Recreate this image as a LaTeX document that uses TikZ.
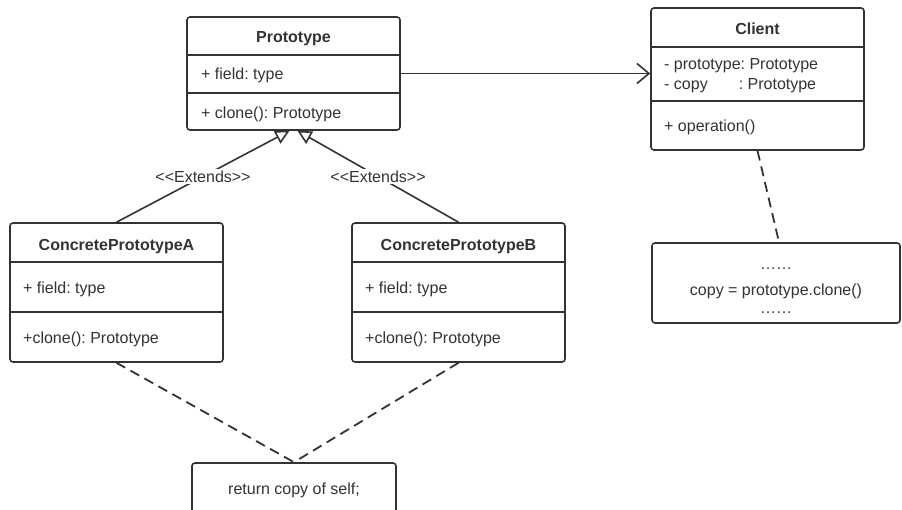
\documentclass[tikz,border=0pt]{standalone}
\usepackage{fontspec}
\setmainfont{Liberation Sans}
\usetikzlibrary{arrows.meta}
\definecolor{umlgray}{HTML}{333333}
\frenchspacing

\begin{document}
\begin{tikzpicture}[x=1pt, y=-1pt,
    every node/.style={text=umlgray, font=\fontsize{16}{20}\selectfont},
    uml box/.style={draw=umlgray, line width=1.6pt, rounded corners=3pt, inner sep=0pt, fill=white},
    class name/.style={anchor=base, inner sep=0pt, font=\fontsize{16}{20}\selectfont\bfseries},
    member/.style={anchor=base west, inner sep=0pt},
    divider/.style={draw=umlgray, line width=1.6pt},
    extends/.style={draw=umlgray, line width=1.6pt, -{Triangle[open, length=14pt, width=14pt, fill=white]}},
    uses/.style={draw=umlgray, line width=1.6pt, -{Straight Barb[length=12pt, width=20pt]}},
    note link/.style={draw=umlgray, line width=1.8pt, dash pattern=on 10pt off 6pt}]

\useasboundingbox (0,0) rectangle (902,510);

% prototype
\node[uml box, minimum width=213, minimum height=113] (proto) at (293.5,73.5) {};
\foreach \y in {55, 93}
    \draw[divider] (proto.west |- 0,\y) -- (proto.east |- 0,\y);
\node[class name] (proto-name) at (293.5,43) {Prototype};
\node[member] (proto-field) at (201,80) {+ field: type};
\node[member] (proto-op) at (201,119) {+ clone(): Prototype};

% client
\node[uml box, minimum width=213, minimum height=142] (client) at (757.5,79) {};
\foreach \y in {47, 101}
    \draw[divider] (client.west |- 0,\y) -- (client.east |- 0,\y);
\node[class name] (client-name) at (757.5,35) {Client};
\node[member] (client-proto) at (664,70) {- prototype: Prototype};
\node[member] (client-copy) at (664,90) {- copy\hspace{31pt}: Prototype};
\node[member] (client-op) at (664,131.5) {+ operation()};

% concrete classes
\foreach \n/\x in {A/116.5, B/458.5} {
    \node[uml box, minimum width=213, minimum height=139] (concrete-\n) at (\x,292.5) {};
    \foreach \y in {262, 312}
        \draw[divider] (concrete-\n.west |- 0,\y) -- (concrete-\n.east |- 0,\y);
    \node[class name] (concrete-\n-name) at (\x,250.5) {ConcretePrototype\n};
    \node[member] (concrete-\n-field) at (\x-93.5,294) {+ field: type};
    \node[member] (concrete-\n-op) at (\x-93.5,344) {+clone(): Prototype};
}

% notes
\node[uml box, minimum width=248, minimum height=80] (client-note) at (776,283) {};
\node[align=center, inner sep=0pt] (client-note-text) at (776,291)
    {……\\[6pt]copy = prototype.clone()\\[-2pt]……};
\node[uml box, minimum width=204, minimum height=54] (clone-note) at (294,490) {return copy of self;};

% connectors
\draw[uses] (proto.east) -- (client.west |- proto.east);
\draw[extends] (concrete-A.north) -- node[fill=white, inner sep=2pt] (extends-A) {<{}<Extends>{}>} ([xshift=-4pt]proto.south);
\draw[extends] (concrete-B.north) -- node[fill=white, inner sep=2pt] (extends-B) {<{}<Extends>{}>} ([xshift=4pt]proto.south);
\draw[note link] (concrete-A.south) -- (clone-note.north);
\draw[note link] (concrete-B.south) -- (clone-note.north);
\draw[note link] (client.south) -- ([xshift=3pt]client-note.north);

\end{tikzpicture}
\end{document}
